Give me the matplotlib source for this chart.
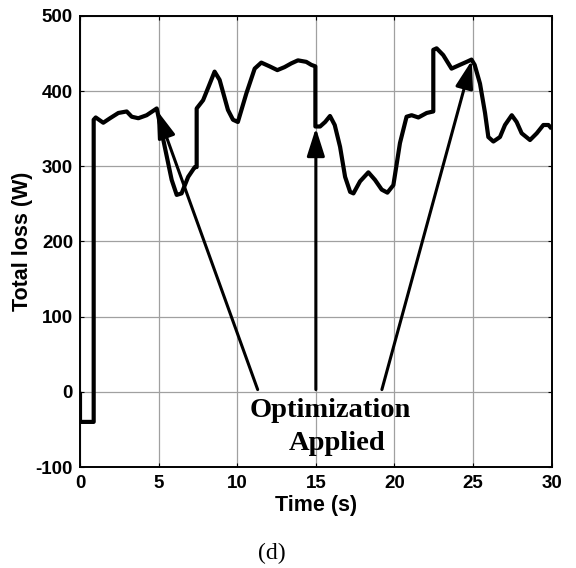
import matplotlib
matplotlib.use("Agg")
import matplotlib.pyplot as plt

# ---- data ----
time_s = [0, 0, 0.87, 0.87, 1.0, 1.48, 1.91, 2.44, 2.97, 3.29, 3.71, 4.24, 4.88,
          5.83, 6.15, 6.46, 6.88, 7.3, 7.42, 7.42, 7.83, 8.14, 8.56, 8.88, 9.41,
          9.73, 10.04, 10.58, 11.11, 11.53, 12.06, 12.55, 13.01, 13.44, 13.86,
          14.39, 14.71, 14.97, 14.97, 15.27, 15.59, 15.9, 16.2, 16.54, 16.86,
          17.18, 17.39, 17.81, 18.34, 18.76, 19.19, 19.55, 19.93, 20.35, 20.77,
          21.09, 21.52, 22.05, 22.47, 22.47, 22.68, 23.1, 23.63, 24.16, 24.59,
          24.9, 25.1, 25.44, 25.76, 25.97, 26.29, 26.71, 27.03, 27.46, 27.77,
          28.09, 28.62, 29.05, 29.47, 29.79, 30.0]
total_loss = [0, -40, -40, 362, 365, 358, 364, 371, 373, 366, 364, 368, 377,
              282, 262, 264, 286, 299, 299, 377, 388, 404, 426, 415, 375,
              362, 359, 397, 430, 438, 433, 428, 432, 437, 441,
              439, 435, 433, 353, 353, 359, 367, 355, 326, 286,
              266, 264, 280, 292, 282, 269, 265, 275, 331, 366,
              368, 365, 371, 373, 455, 457, 448, 430, 435, 439,
              442, 435, 410, 371, 339, 333, 339, 355, 368, 359,
              344, 335, 344, 355, 355, 350]

# arrows: tail (t, P) -> head (t, P)
arrow_tail_t = [11.3, 15.0, 19.2]
arrow_tail_p = [3, 3, 3]
arrow_head_t = [4.88, 15.0, 24.92]
arrow_head_p = [375, 351, 441]

annot_lines = ["Optimization", "Applied"]
annot_t = [15.9, 16.35]
annot_p = [-33.5, -77.4]

x_ticks = [0, 5, 10, 15, 20, 25, 30]
y_ticks = [-100, 0, 100, 200, 300, 400, 500]

sans = ["Liberation Sans", "DejaVu Sans"]
serif = ["Liberation Serif", "DejaVu Serif"]

fig = plt.figure(figsize=(5.76, 5.68), dpi=100)
ax = fig.add_axes([80 / 576, 1 - 467 / 568, (551.7 - 80) / 576, (467 - 16) / 568])

ax.plot(time_s, total_loss, color="black", lw=3.0, solid_joinstyle="round",
        solid_capstyle="butt", zorder=3)

for tt, tp, ht, hp in zip(arrow_tail_t, arrow_tail_p, arrow_head_t, arrow_head_p):
    ax.annotate("", xy=(ht, hp), xytext=(tt, tp),
                arrowprops=dict(arrowstyle="-|>,head_length=0.85,head_width=0.27",
                                mutation_scale=20, color="black", lw=2.2,
                                shrinkA=0, shrinkB=0), zorder=4)

for s, tx, py in zip(annot_lines, annot_t, annot_p):
    ax.text(tx, py, s, ha="center", va="baseline", family=serif,
            fontweight="bold", fontsize=20.5, zorder=5)

ax.set_xlim(0, 30)
ax.set_ylim(-100, 500)
ax.set_xticks(x_ticks)
ax.set_yticks(y_ticks)
ax.set_xticklabels([str(v) for v in x_ticks], family=sans, fontweight="bold", fontsize=13.5)
ax.set_yticklabels([str(v) for v in y_ticks], family=sans, fontweight="bold", fontsize=13.5)
ax.tick_params(direction="in", length=3, width=0.8, top=True, right=True)
ax.tick_params(axis="x", pad=6)
ax.tick_params(axis="y", pad=5)
ax.grid(True, color="#a0a0a0", lw=0.9)
ax.set_axisbelow(True)
for sp in ax.spines.values():
    sp.set_linewidth(1.4)
    sp.set_color("black")

ax.set_xlabel("Time (s)", family=sans, fontweight="bold", fontsize=15.5, labelpad=2)
ax.set_ylabel("Total loss (W)", family=sans, fontweight="bold", fontsize=15.5, labelpad=2)

fig.text(272 / 576, 1 - 553 / 568, "(d)", ha="center", va="center",
         family=serif, fontsize=17)

fig.savefig("out.png", dpi=100)
